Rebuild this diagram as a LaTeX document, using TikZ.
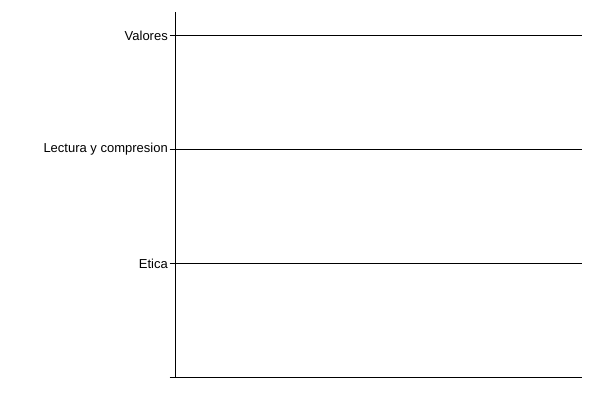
\documentclass[tikz,border=0pt]{standalone}
\usepackage{fontspec}
\setmainfont{Liberation Sans}
\usepackage{tikz}
\usetikzlibrary{positioning}
\colorlet{axisc}{black}

\begin{document}
\begin{tikzpicture}[x=1pt,y=-1pt]
\useasboundingbox (0,0) rectangle (600,400);
\tikzset{axisline/.style={draw=axisc,line width=1pt},
         rowlabel/.style={anchor=east,inner sep=1.5pt,font=\fontsize{13}{15}\selectfont}}

% vertical axis
\coordinate (axtop) at (175.5,12);
\coordinate (axbot) at (175.5,377.5);
\draw[axisline] (axtop) -- (axbot);

% rows
\node[rowlabel] (valores) at (169.5,35.5) {Valores};
\coordinate (valoresend) at (581.5,35.5);
\draw[axisline] (valores.east) -- (valoresend);

\node[rowlabel] (lectura) at (169.5,149.5) {Lectura y compresion};
\coordinate (lecturaend) at (581.5,149.5);
\draw[axisline] (lectura.east) -- (lecturaend);

\node[rowlabel] (etica) at (169.5,263.5) {Etica};
\coordinate (eticaend) at (581.5,263.5);
\draw[axisline] (etica.east) -- (eticaend);

% base line
\coordinate (basestart) at (169.5,377.5);
\coordinate (baseend) at (581.5,377.5);
\draw[axisline] (basestart) -- (baseend);

\end{tikzpicture}
\end{document}
